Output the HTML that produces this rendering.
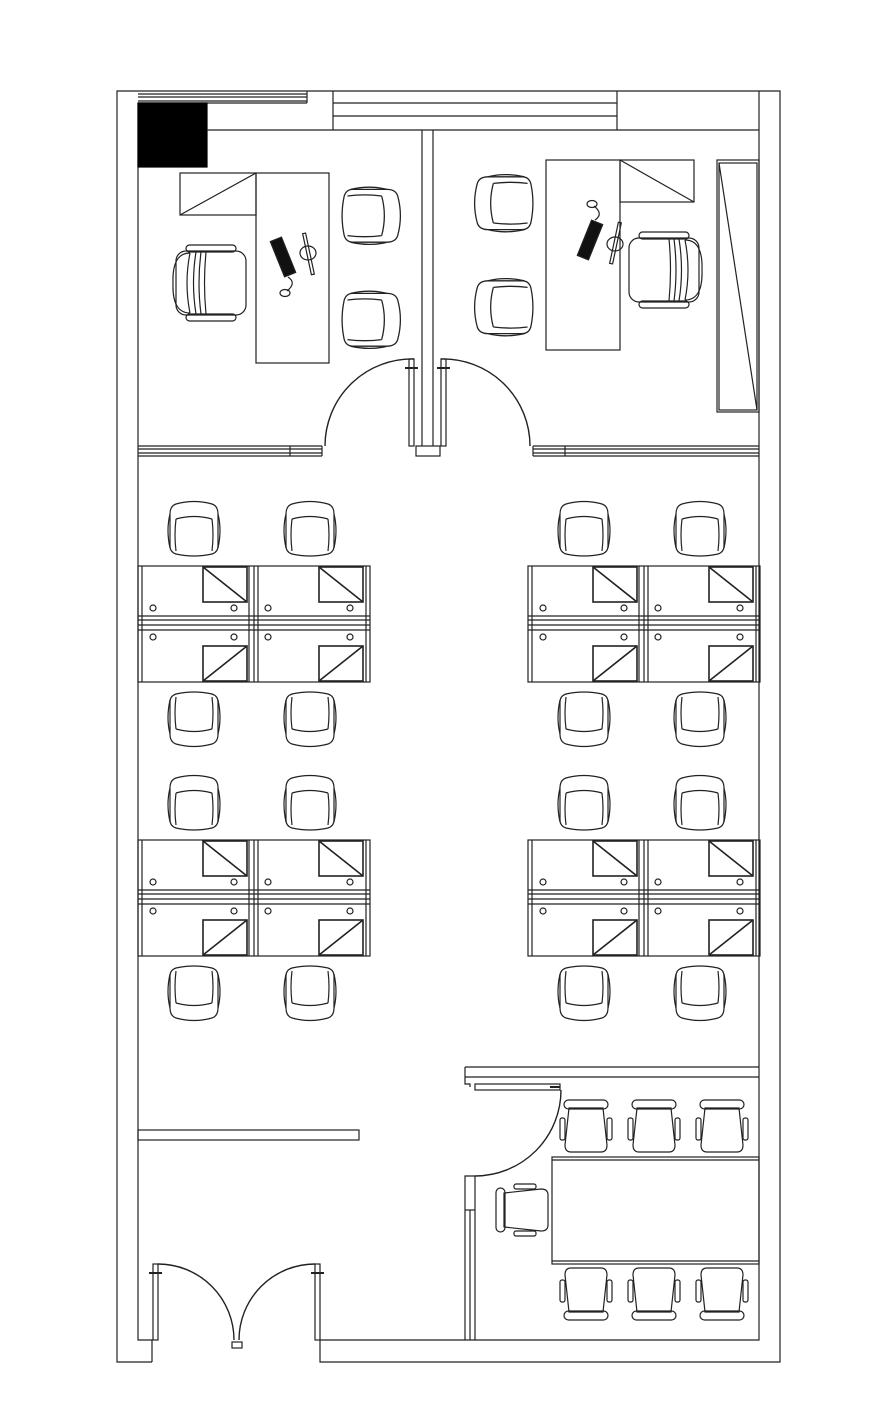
<!DOCTYPE html>
<html><head><meta charset="utf-8"><style>html,body{margin:0;padding:0;background:#fff}svg{display:block}</style></head>
<body>
<svg width="890" height="1418" viewBox="0 0 890 1418" xmlns="http://www.w3.org/2000/svg" fill="none" stroke="#222" stroke-width="1.2">
<defs>
<symbol id="tub" viewBox="0 0 56 56" width="56" height="56" overflow="visible">
<path d="M10,4 Q28,-1 46,4 Q52,6 52,14 L52,46 Q52,52 46,54 Q28,58 10,54 Q4,52 4,46 L4,14 Q4,6 10,4 Z"/>
<path d="M10,19 Q28,14 46,19"/><path d="M10,19 Q8,35 10,51"/><path d="M46,19 Q48,35 46,51"/>
<path d="M4,14 Q0,30 4,48"/><path d="M52,14 Q56,30 52,48"/>
</symbol>
<symbol id="exec" viewBox="0 0 76 76" width="76" height="76" overflow="visible">
<rect x="14" y="0" width="50" height="7" rx="3.5"/>
<rect x="14" y="69" width="50" height="7" rx="3.5"/>
<rect x="4" y="6" width="70" height="64" rx="10"/>
<path d="M18,8 Q0,8 1,38 Q0,68 18,68"/>
<path d="M18,8 Q12,38 18,68"/><path d="M24,7 Q19,38 24,69"/><path d="M29,7 Q25,38 29,69"/><path d="M34,7 Q31,38 34,69"/>
</symbol>
<symbol id="mch" viewBox="0 0 52 52" width="52" height="52" overflow="visible">
<rect x="4" y="0" width="44" height="9" rx="4.5"/>
<path d="M9,8 L43,8 L47,45 Q47,52 41,52 L11,52 Q5,52 5,45 Z"/>
<rect x="0" y="18" width="5" height="22" rx="2"/><rect x="47" y="18" width="5" height="22" rx="2"/>
</symbol>
<g id="ws">
<rect x="0" y="0" width="232" height="116"/>
<line x1="4" y1="0" x2="4" y2="116"/>
<line x1="111" y1="0" x2="111" y2="116"/><line x1="116" y1="0" x2="116" y2="116"/><line x1="120" y1="0" x2="120" y2="116"/>
<line x1="228" y1="0" x2="228" y2="116"/>
<line x1="0" y1="50" x2="232" y2="50"/><line x1="0" y1="54" x2="232" y2="54"/><line x1="0" y1="59" x2="232" y2="59"/><line x1="0" y1="64" x2="232" y2="64"/>
<g stroke-width="1.6">
<rect x="65" y="1" width="44" height="35"/><line x1="65" y1="1" x2="109" y2="36"/>
<rect x="181" y="1" width="44" height="35"/><line x1="181" y1="1" x2="225" y2="36"/>
<rect x="65" y="80" width="44" height="35"/><line x1="65" y1="115" x2="109" y2="80"/>
<rect x="181" y="80" width="44" height="35"/><line x1="181" y1="115" x2="225" y2="80"/>
</g>
<circle cx="15" cy="42" r="3"/><circle cx="96" cy="42" r="3"/><circle cx="130" cy="42" r="3"/><circle cx="212" cy="42" r="3"/>
<circle cx="15" cy="71" r="3"/><circle cx="96" cy="71" r="3"/><circle cx="130" cy="71" r="3"/><circle cx="212" cy="71" r="3"/>
</g>
<g id="pc">
<rect x="-6" y="-19" width="12" height="38" fill="#111" transform="rotate(-22)"/>
<path d="M5,20 Q14,26 4,34"/><ellipse cx="2" cy="36" rx="5" ry="3.5"/>
<rect x="24" y="-24" width="3" height="42" transform="rotate(-12 25 -3)"/>
<ellipse cx="25" cy="-4" rx="8" ry="7"/>
</g>
</defs>

<!-- outer walls -->
<polyline points="152,1362 117,1362 117,91 780,91 780,1362 320,1362 320,1340 759,1340 759,130"/>
<polyline points="152,1362 152,1340 138,1340 138,103"/>
<line x1="759" y1="91" x2="759" y2="130"/>
<!-- top left window -->
<line x1="138" y1="94" x2="307" y2="94"/><line x1="138" y1="97" x2="307" y2="97"/><line x1="138" y1="101" x2="307" y2="101"/><line x1="138" y1="103" x2="307" y2="103"/>
<line x1="307" y1="91" x2="307" y2="103"/>
<rect x="138" y="103" width="69" height="64" fill="#000" stroke="#000"/>
<line x1="333" y1="91" x2="333" y2="130"/>
<line x1="333" y1="103" x2="617" y2="103"/><line x1="333" y1="116" x2="617" y2="116"/>
<line x1="617" y1="91" x2="617" y2="130"/>
<line x1="207" y1="130" x2="759" y2="130"/>
<!-- central partition -->
<line x1="422" y1="130" x2="422" y2="446"/><line x1="433" y1="130" x2="433" y2="446"/>
<rect x="416" y="446" width="24" height="10"/>
<!-- office bottom partitions -->
<line x1="138" y1="446" x2="322" y2="446"/><line x1="138" y1="449" x2="322" y2="449"/><line x1="138" y1="453" x2="322" y2="453"/><line x1="138" y1="456" x2="322" y2="456"/>
<line x1="290" y1="446" x2="290" y2="456"/><line x1="322" y1="446" x2="322" y2="456"/>
<line x1="533" y1="446" x2="759" y2="446"/><line x1="533" y1="449" x2="759" y2="449"/><line x1="533" y1="453" x2="759" y2="453"/><line x1="533" y1="456" x2="759" y2="456"/>
<line x1="533" y1="446" x2="533" y2="456"/><line x1="565" y1="446" x2="565" y2="456"/>
<!-- office doors -->
<rect x="409" y="359" width="5" height="87"/><path d="M414,359 A87,87 0 0 0 325,446" stroke-width="1.4"/>
<line x1="405" y1="368" x2="418" y2="368" stroke-width="2"/>
<rect x="441" y="359" width="5" height="87"/><path d="M441,359 A87,87 0 0 1 530,446" stroke-width="1.4"/>
<line x1="437" y1="368" x2="450" y2="368" stroke-width="2"/>
<!-- left office -->
<rect x="180" y="173" width="76" height="42"/><line x1="180" y1="215" x2="256" y2="173"/>
<rect x="256" y="173" width="73" height="190"/>
<use href="#exec" x="172" y="245"/>
<use href="#pc" transform="translate(283,257)"/>
<use href="#tub" transform="translate(402,185) rotate(90) scale(1.1,1.07)"/>
<use href="#tub" transform="translate(402,289) rotate(90) scale(1.1,1.07)"/>
<!-- right office -->
<rect x="546" y="160" width="74" height="190"/>
<rect x="620" y="160" width="74" height="42"/><line x1="620" y1="160" x2="694" y2="202"/>
<use href="#exec" transform="translate(703,232) scale(-1,1)"/>
<use href="#pc" transform="translate(590,240) scale(-1,1) rotate(180)"/>
<use href="#tub" transform="translate(473,234) rotate(-90) scale(1.1,1.07)"/>
<use href="#tub" transform="translate(473,338) rotate(-90) scale(1.1,1.07)"/>
<rect x="717" y="160" width="42" height="252"/><rect x="719" y="163" width="38" height="247"/><line x1="719" y1="163" x2="757" y2="410"/>
<!-- workstations -->
<use href="#ws" x="138" y="566"/><use href="#ws" x="528" y="566"/>
<use href="#ws" x="138" y="840"/><use href="#ws" x="528" y="840"/>
<!-- workstation chairs -->
<g>
<use href="#tub" x="166" y="500"/><use href="#tub" x="282" y="500"/><use href="#tub" x="556" y="500"/><use href="#tub" x="672" y="500"/>
<use href="#tub" x="166" y="774"/><use href="#tub" x="282" y="774"/><use href="#tub" x="556" y="774"/><use href="#tub" x="672" y="774"/>
<use href="#tub" transform="translate(222,748) rotate(180)"/><use href="#tub" transform="translate(338,748) rotate(180)"/>
<use href="#tub" transform="translate(612,748) rotate(180)"/><use href="#tub" transform="translate(728,748) rotate(180)"/>
<use href="#tub" transform="translate(222,1022) rotate(180)"/><use href="#tub" transform="translate(338,1022) rotate(180)"/>
<use href="#tub" transform="translate(612,1022) rotate(180)"/><use href="#tub" transform="translate(728,1022) rotate(180)"/>
</g>
<!-- partition open area -->
<rect x="138" y="1130" width="221" height="10"/>
<!-- meeting room -->
<line x1="465" y1="1067" x2="759" y2="1067"/><line x1="465" y1="1077" x2="759" y2="1077"/>
<polyline points="465,1067 465,1084 470,1084 470,1087"/>
<rect x="475" y="1084" width="85" height="6"/>
<line x1="550" y1="1087" x2="560" y2="1087" stroke-width="2"/>
<path d="M561,1090 A86,86 0 0 1 475,1176" stroke-width="1.4"/>
<polyline points="465,1340 465,1176 475,1176 475,1340"/><line x1="470" y1="1210" x2="470" y2="1340"/><line x1="465" y1="1210" x2="475" y2="1210"/>
<rect x="552" y="1157" width="207" height="107"/><line x1="552" y1="1160" x2="759" y2="1160"/><line x1="552" y1="1261" x2="759" y2="1261"/>
<use href="#mch" x="560" y="1100"/><use href="#mch" x="628" y="1100"/><use href="#mch" x="696" y="1100"/>
<use href="#mch" transform="translate(612,1320) rotate(180)"/><use href="#mch" transform="translate(680,1320) rotate(180)"/><use href="#mch" transform="translate(748,1320) rotate(180)"/>
<use href="#mch" transform="translate(496,1236) rotate(-90)"/>
<!-- entrance double door -->
<rect x="153" y="1264" width="5" height="76"/><path d="M158,1264 A76,76 0 0 1 234,1340" stroke-width="1.4"/>
<line x1="149" y1="1273" x2="162" y2="1273" stroke-width="2"/>
<rect x="315" y="1264" width="5" height="76"/><path d="M315,1264 A76,76 0 0 0 239,1340" stroke-width="1.4"/>
<line x1="311" y1="1273" x2="324" y2="1273" stroke-width="2"/>
<rect x="232" y="1342" width="10" height="6"/>
</svg>
</body></html>
